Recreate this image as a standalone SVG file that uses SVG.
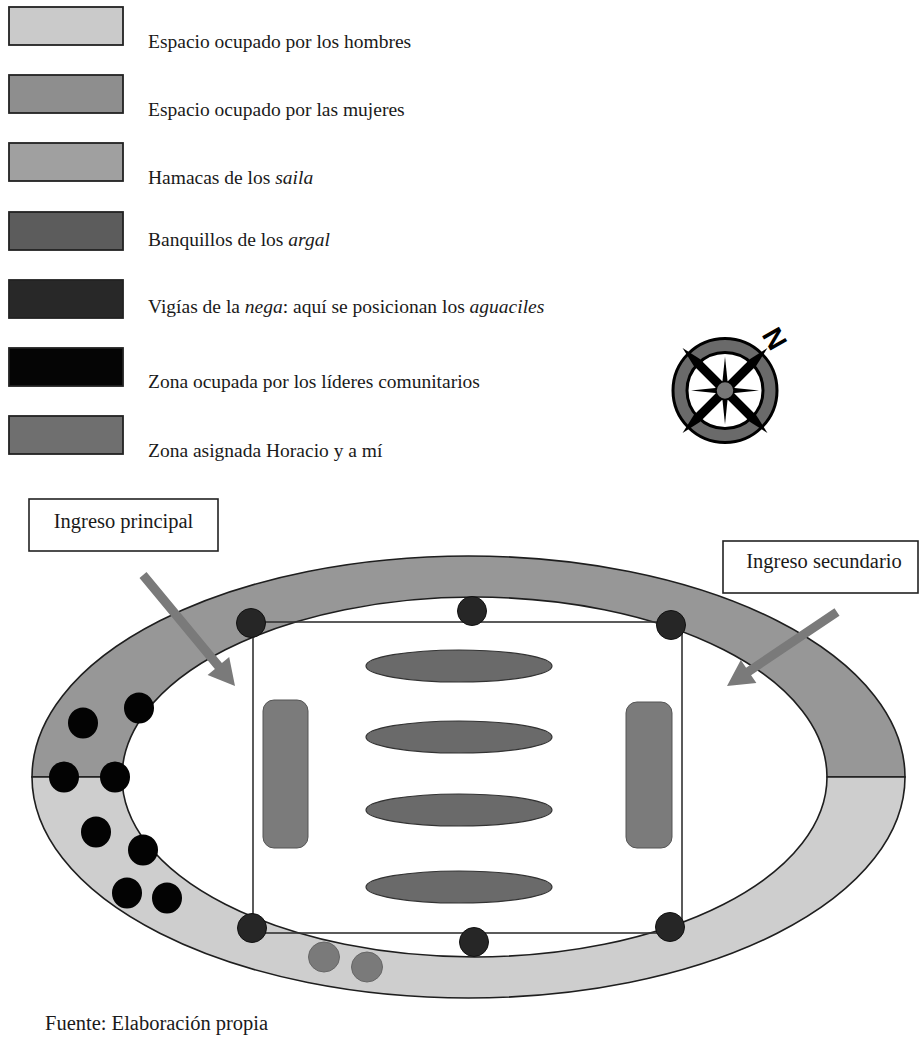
<svg xmlns="http://www.w3.org/2000/svg" width="920" height="1039" viewBox="0 0 920 1039">
  <style>
    .lg { font-family: "Liberation Serif", "Times New Roman", serif; font-size: 19.5px; fill: #1a1a1a; }
    .lb { font-family: "Liberation Serif", "Times New Roman", serif; font-size: 20.5px; fill: #1a1a1a; }
    .sw { stroke: #222; stroke-width: 1.8; }
    .box { fill: #fff; stroke: #222; stroke-width: 1.6; }
    .vig { fill: #262626; stroke: #111; stroke-width: 1; }
    .lid { fill: #030303; }
    .hor { fill: #7a7a7a; stroke: #666; stroke-width: 1; }
    .ham { fill: #7b7b7b; stroke: #555; stroke-width: 1; }
    .ban { fill: #6a6a6a; stroke: #333; stroke-width: 1.2; }
    .arr { fill: #7a7a7a; }
  </style>
  <rect x="0" y="0" width="920" height="1039" fill="#fff"/>

  <g id="legend">
    <g id="leg-hombres">
      <rect class="sw" x="9" y="7" width="114" height="38" fill="#cacaca"/>
      <text class="lg" x="148" y="48">Espacio ocupado por los hombres</text>
    </g>
    <g id="leg-mujeres">
      <rect class="sw" x="9" y="75" width="114" height="38" fill="#8e8e8e"/>
      <text class="lg" x="148" y="116">Espacio ocupado por las mujeres</text>
    </g>
    <g id="leg-saila">
      <rect class="sw" x="9" y="143" width="114" height="38" fill="#a0a0a0"/>
      <text class="lg" x="148" y="184">Hamacas de los <tspan font-style="italic">saila</tspan></text>
    </g>
    <g id="leg-argal">
      <rect class="sw" x="9" y="212" width="114" height="38" fill="#5c5c5c"/>
      <text class="lg" x="148" y="246">Banquillos de los <tspan font-style="italic">argal</tspan></text>
    </g>
    <g id="leg-vigias">
      <rect class="sw" x="9" y="280" width="114" height="38" fill="#282828"/>
      <text class="lg" x="148" y="313">Vigías de la <tspan font-style="italic">nega</tspan>: aquí se posicionan los <tspan font-style="italic">aguaciles</tspan></text>
    </g>
    <g id="leg-lideres">
      <rect class="sw" x="9" y="348" width="114" height="38" fill="#050505"/>
      <text class="lg" x="148" y="388">Zona ocupada por los líderes comunitarios</text>
    </g>
    <g id="leg-horacio">
      <rect class="sw" x="9" y="416" width="114" height="38" fill="#6f6f6f"/>
      <text class="lg" x="148" y="457">Zona asignada Horacio y a mí</text>
    </g>
  </g>

  <g id="compass" transform="translate(725 390.5)">
    <circle r="45" fill="none" stroke="#000" stroke-width="17"/>
    <circle r="45" fill="none" stroke="#6a6a6a" stroke-width="11"/>
    <polygon points="-60,0 -40,-4.5 40,-4.5 60,0 40,4.5 -40,4.5" fill="#000" transform="rotate(45)"/>
    <polygon points="-60,0 -40,-4.5 40,-4.5 60,0 40,4.5 -40,4.5" fill="#000" transform="rotate(-45)"/>
    <polygon points="-34,0 0,-3.5 34,0 0,3.5" fill="#000"/>
    <polygon points="-34,0 0,-3.5 34,0 0,3.5" fill="#000" transform="rotate(90)"/>
    <circle r="9" fill="#777" stroke="#000" stroke-width="1.5"/>
    <text x="0" y="0" font-family="Liberation Sans, Arial, sans-serif" font-weight="bold" font-size="28" text-anchor="middle" fill="#000" transform="translate(50 -52) rotate(60) translate(0 10)">N</text>
  </g>

  <g id="ring">
    <path id="ring-mujeres" d="M 32 777 A 436.5 221 0 0 1 905 777 L 827 777 A 352.5 180 0 0 0 122 777 Z" fill="#979797" stroke="#1e1e1e" stroke-width="1.6"/>
    <path id="ring-hombres" d="M 32 777 A 436.5 221 0 0 0 905 777 L 827 777 A 352.5 180 0 0 1 122 777 Z" fill="#cecece" stroke="#1e1e1e" stroke-width="1.6"/>
  </g>

  <g id="nega-rect">
    <rect x="253" y="622" width="429" height="311" fill="none" stroke="#333" stroke-width="1.6"/>
  </g>

  <g id="hamacas">
    <rect class="ham" x="263" y="700" width="45" height="148" rx="11"/>
    <rect class="ham" x="626" y="702" width="46" height="146" rx="11"/>
  </g>

  <g id="banquillos">
    <ellipse class="ban" cx="459" cy="666" rx="93" ry="16"/>
    <ellipse class="ban" cx="459" cy="737" rx="93" ry="16"/>
    <ellipse class="ban" cx="459" cy="810" rx="93" ry="16"/>
    <ellipse class="ban" cx="459" cy="887" rx="93" ry="16"/>
  </g>

  <g id="vigias">
    <circle class="vig" cx="251" cy="623" r="14.5"/>
    <circle class="vig" cx="472" cy="611" r="14.5"/>
    <circle class="vig" cx="671" cy="625" r="14.5"/>
    <circle class="vig" cx="252" cy="928" r="14.5"/>
    <circle class="vig" cx="474" cy="942" r="14.5"/>
    <circle class="vig" cx="670" cy="927" r="14.5"/>
  </g>

  <g id="lideres">
    <ellipse class="lid" cx="83" cy="723" rx="15" ry="15.5"/>
    <ellipse class="lid" cx="139" cy="708" rx="15" ry="15.5"/>
    <ellipse class="lid" cx="64" cy="777" rx="15" ry="15.5"/>
    <ellipse class="lid" cx="115" cy="777" rx="15" ry="15.5"/>
    <ellipse class="lid" cx="96" cy="832" rx="15" ry="15.5"/>
    <ellipse class="lid" cx="143" cy="850" rx="15" ry="15.5"/>
    <ellipse class="lid" cx="127" cy="893" rx="15" ry="15.5"/>
    <ellipse class="lid" cx="167" cy="898" rx="15" ry="15.5"/>
  </g>

  <g id="horacio">
    <ellipse class="hor" cx="324" cy="957" rx="15.5" ry="15"/>
    <ellipse class="hor" cx="367" cy="967" rx="15.5" ry="15"/>
  </g>

  <g id="ingreso-principal">
    <rect class="box" x="29" y="499" width="189" height="52"/>
    <text class="lb" x="123.5" y="528" text-anchor="middle">Ingreso principal</text>
  </g>

  <g id="ingreso-secundario">
    <rect class="box" x="723" y="541" width="195" height="52"/>
    <text class="lb" x="824" y="568" text-anchor="middle">Ingreso secundario</text>
  </g>

  <g id="connectors">
    <polygon class="arr" points="139.5,577.9 214.9,668.9 207.6,674.9 235,686 229.2,657.1 221.9,663.1 146.5,572.1"/>
    <polygon class="arr" points="834.5,608.3 746.1,667.8 740.8,659.9 727,686 756.4,683.1 751.1,675.2 839.5,615.7"/>
  </g>

  <text class="lb" x="45" y="1030">Fuente: Elaboración propia</text>
</svg>
